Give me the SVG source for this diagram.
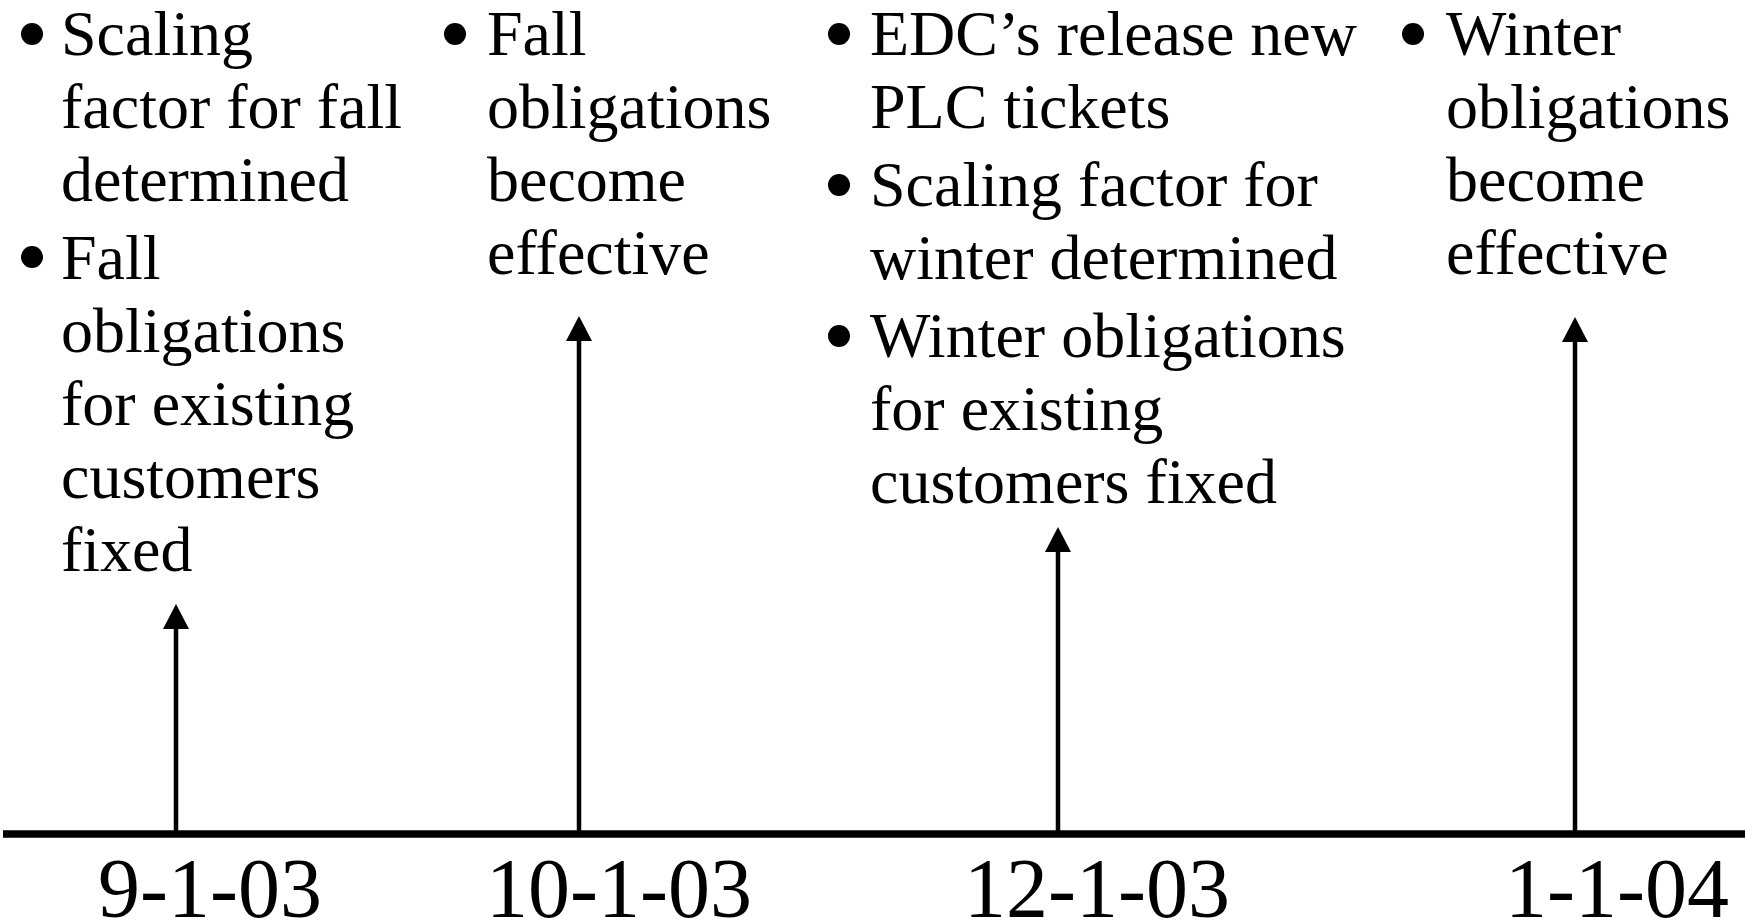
<svg xmlns="http://www.w3.org/2000/svg" width="1745" height="924" viewBox="0 0 1745 924">
<defs>
<style>
.t{font-family:"Liberation Serif","Times New Roman",serif;font-size:64px;fill:#000}
.d{font-family:"Liberation Serif","Times New Roman",serif;font-size:84px;fill:#000}
.b{fill:#000}
.ln{stroke:#000;stroke-width:4.5;fill:none}
.ax{stroke:#000;stroke-width:7.5;fill:none}
</style>
</defs>
<rect width="1745" height="924" fill="#fff"/>
<g id="connectors">
<line class="ax" x1="3" y1="834" x2="1745" y2="834"/>
<path class="ln" d="M176 834 V627"/>
<polygon points="176,604 189,629 163,629" class="b"/>
<path class="ln" d="M579 834 V339"/>
<polygon points="579,316 592,341 566,341" class="b"/>
<path class="ln" d="M1058 834 V550"/>
<polygon points="1058,527 1071,552 1045,552" class="b"/>
<path class="ln" d="M1575 834 V340"/>
<polygon points="1575,317 1588,342 1562,342" class="b"/>
</g>
<g id="node-sep">
<circle class="b" cx="32" cy="34" r="11"/>
<text class="t" x="61" y="55">Scaling</text>
<text class="t" x="61" y="128">factor for fall</text>
<text class="t" x="61" y="201">determined</text>
<circle class="b" cx="32" cy="257" r="11"/>
<text class="t" x="61" y="279">Fall</text>
<text class="t" x="61" y="352">obligations</text>
<text class="t" x="61" y="425">for existing</text>
<text class="t" x="61" y="498">customers</text>
<text class="t" x="61" y="571">fixed</text>
<text class="d" x="98" y="917">9-1-03</text>
</g>
<g id="node-oct">
<circle class="b" cx="455" cy="34" r="11"/>
<text class="t" x="487" y="55">Fall</text>
<text class="t" x="487" y="128">obligations</text>
<text class="t" x="487" y="201">become</text>
<text class="t" x="487" y="274">effective</text>
<text class="d" x="486" y="917">10-1-03</text>
</g>
<g id="node-dec">
<circle class="b" cx="839" cy="34" r="11"/>
<text class="t" x="870" y="55">EDC’s release new</text>
<text class="t" x="870" y="128">PLC tickets</text>
<circle class="b" cx="839" cy="185" r="11"/>
<text class="t" x="870" y="206">Scaling factor for</text>
<text class="t" x="870" y="279">winter determined</text>
<circle class="b" cx="839" cy="336" r="11"/>
<text class="t" x="870" y="357">Winter obligations</text>
<text class="t" x="870" y="430">for existing</text>
<text class="t" x="870" y="503">customers fixed</text>
<text class="d" x="964" y="917">12-1-03</text>
</g>
<g id="node-jan">
<circle class="b" cx="1413" cy="34" r="11"/>
<text class="t" x="1446" y="55">Winter</text>
<text class="t" x="1446" y="128">obligations</text>
<text class="t" x="1446" y="201">become</text>
<text class="t" x="1446" y="274">effective</text>
<text class="d" x="1505" y="917">1-1-04</text>
</g>
</svg>
